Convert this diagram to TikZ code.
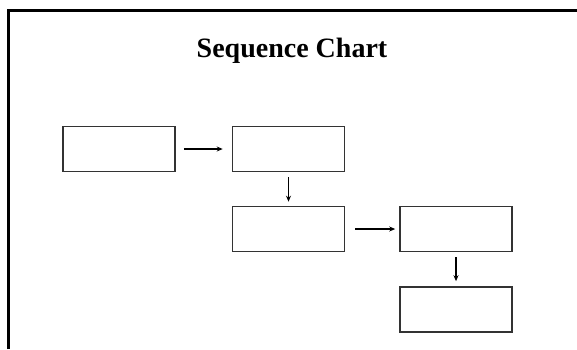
\documentclass[tikz,border=0pt]{standalone}
\usepackage{fontspec}
\setmainfont{Liberation Serif}
\usepackage{tikz}
\usetikzlibrary{arrows.meta}

\begin{document}
\begin{tikzpicture}[x=1pt,y=-1pt,>={Stealth[length=6pt,width=5pt]},
  box/.style={draw=black!80,line width=1.6pt,minimum width=112pt,minimum height=45pt,inner sep=0pt},
  link/.style={->,line width=1.1pt}]
  \useasboundingbox (0,0) rectangle (577,349);
  \draw [line width=3pt] (8,349) -- (8,10.5) -- (577,10.5);
  \node (t) at (292,57) [anchor=base,font=\fontsize{28}{32}\selectfont\bfseries] {Sequence Chart};
  \node [box] (a) at (119,149) {};
  \node [box] (b) at (288.5,149) {};
  \node [box] (c) at (288.5,229) {};
  \node [box] (d) at (456,229) {};
  \node [box] (e) at (456,309.5) {};
  \draw [link,shorten <=8pt,shorten >=9pt] (a) to (b);
  \draw [link,shorten <=5pt,shorten >=4pt] (b) to (c);
  \draw [link,shorten <=10pt,shorten >=4pt] (c) to (d);
  \draw [link,shorten <=5pt,shorten >=5pt] (d) to (e);
\end{tikzpicture}
\end{document}
